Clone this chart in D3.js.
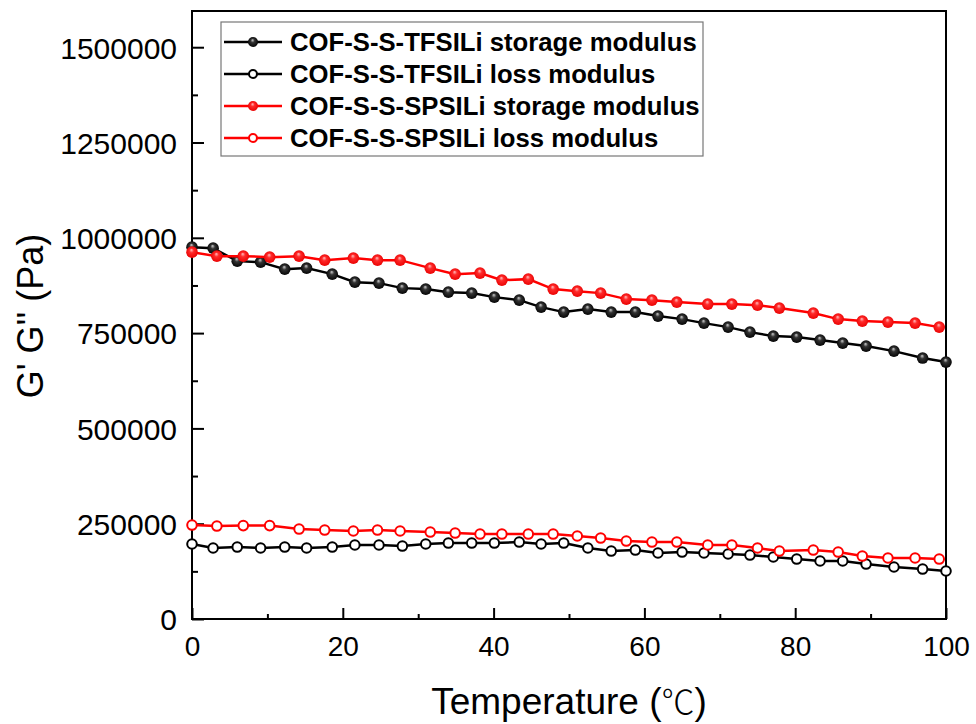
<!DOCTYPE html>
<html><head><meta charset="utf-8">
<script src="https://cdn.jsdelivr.net/npm/d3@7"></script>
<style>body{margin:0;background:#fff}svg{display:block}</style>
</head><body>
<script>
// ---- data ----
const tempsTFSI = [0, 2.8, 6.0, 9.1, 12.3, 15.2, 18.6, 21.6, 24.8, 27.9, 31.0, 34.0, 37.1, 40.1, 43.4, 46.3, 49.3, 52.5, 55.6, 58.8, 61.8, 65.0, 67.9, 71.1, 74.0, 77.1, 80.2, 83.3, 86.3, 89.4, 93.1, 96.9, 100];
const storageTFSI = [975500, 972900, 938800, 936200, 917800, 920500, 904700, 883700, 881100, 868000, 865400, 857500, 854900, 844400, 836500, 818200, 805100, 812900, 805100, 805100, 794600, 786700, 776200, 765700, 752600, 742100, 739500, 731700, 723800, 715900, 702800, 684500, 674000];
const lossTFSI = [196700, 186200, 188800, 186200, 188800, 186200, 188800, 194100, 194100, 191400, 196700, 199300, 199300, 199300, 201900, 196700, 199300, 186200, 178300, 180900, 173100, 175700, 173100, 170500, 167800, 162600, 157300, 152100, 152100, 144200, 136400, 131100, 125900];
const tempsSPSI = [0, 3.3, 6.8, 10.3, 14.2, 17.6, 21.4, 24.6, 27.6, 31.6, 34.9, 38.2, 41.1, 44.6, 47.9, 51.1, 54.2, 57.6, 61.0, 64.3, 68.4, 71.6, 75.0, 77.9, 82.4, 85.7, 88.9, 92.3, 95.9, 99.1];
const storageSPSI = [962400, 951900, 951900, 949300, 951900, 941400, 946700, 941400, 941400, 920500, 904700, 907400, 889000, 891600, 865400, 860100, 854900, 839200, 836500, 831300, 826100, 826100, 823400, 815600, 802500, 786700, 781500, 778900, 776200, 765700];
const lossSPSI = [246500, 243900, 245000, 245000, 236000, 233400, 230800, 233400, 230800, 228100, 225500, 222900, 222900, 222900, 222900, 217700, 212400, 204500, 201900, 201900, 194100, 194100, 186200, 178300, 180900, 175700, 165200, 160000, 160000, 157300];
const seriesNames = ["COF-S-S-TFSILi storage modulus", "COF-S-S-TFSILi loss modulus", "COF-S-S-SPSILi storage modulus", "COF-S-S-SPSILi loss modulus"];
const seriesColors = ["#000000", "#000000", "#ff0000", "#ff0000"];
const seriesFilled = [true, false, true, false];
const xTicks = [0, 20, 40, 60, 80, 100];
const xMinorTicks = [10, 30, 50, 70, 90];
const yTicks = [0, 250000, 500000, 750000, 1000000, 1250000, 1500000];
const yMinorTicks = [125000, 375000, 625000, 875000, 1125000, 1375000];
const xTitleMain = "Temperature (";
const xTitleUnit = "\u2103";
const xTitleEnd = ")";
const yTitle = "G' G'' (Pa)";

const series = [
  {x: tempsTFSI, y: storageTFSI},
  {x: tempsTFSI, y: lossTFSI},
  {x: tempsSPSI, y: storageSPSI},
  {x: tempsSPSI, y: lossSPSI}
].map((s, i) => ({name: seriesNames[i], color: seriesColors[i], filled: seriesFilled[i],
  pts: s.x.map((t, j) => [t, s.y[j]])}));

const W = 976, H = 724;
const L = 192, R = 946, T = 11, B = 619;
const svg = d3.select("body").append("svg").attr("width", W).attr("height", H);

const x = d3.scaleLinear().domain([0, 100]).range([L, R]);
const y = d3.scaleLinear().domain([0, 1595000]).range([B, T]);

// gradients for ball markers
const defs = svg.append("defs");
function ball(id, c0, c1, c2) {
  const g = defs.append("radialGradient").attr("id", id)
    .attr("cx", "50%").attr("cy", "50%").attr("r", "55%").attr("fx", "45%").attr("fy", "30%");
  g.append("stop").attr("offset", "0%").attr("stop-color", c0);
  g.append("stop").attr("offset", "35%").attr("stop-color", c1);
  g.append("stop").attr("offset", "100%").attr("stop-color", c2);
}
ball("ballBlack", "#d0d0d0", "#333333", "#000000");
ball("ballRed", "#ffc0c0", "#ff2a2a", "#e80000");
const ballFill = c => c === "#ff0000" ? "url(#ballRed)" : "url(#ballBlack)";

// axes (ticks inward)
const fontTick = "'Liberation Sans', Arial, sans-serif";
const xAxis = svg.append("g").attr("transform", `translate(0,${B})`)
  .call(d3.axisBottom(x).tickValues(xTicks).tickSizeInner(-11).tickSizeOuter(0).tickPadding(22).tickFormat(d3.format("d")));
const xMinor = svg.append("g").attr("transform", `translate(0,${B})`)
  .call(d3.axisBottom(x).tickValues(xMinorTicks).tickSizeInner(-5).tickSizeOuter(0).tickFormat(""));
const yAxis = svg.append("g").attr("transform", `translate(${L},0)`)
  .call(d3.axisLeft(y).tickValues(yTicks).tickSizeInner(-12).tickSizeOuter(0).tickPadding(15).tickFormat(d3.format("d")));
const yMinor = svg.append("g").attr("transform", `translate(${L},0)`)
  .call(d3.axisLeft(y).tickValues(yMinorTicks).tickSizeInner(-6).tickSizeOuter(0).tickFormat(""));
[xAxis, xMinor, yAxis, yMinor].forEach(g => {
  g.select(".domain").remove();
  g.selectAll(".tick line").attr("stroke", "#000").attr("stroke-width", 2);
});
xAxis.selectAll(".tick text").attr("font-family", fontTick).attr("font-size", 28).attr("fill", "#000").attr("dy", "0.55em");
yAxis.selectAll(".tick text").attr("font-family", fontTick).attr("font-size", 30).attr("fill", "#000").attr("dy", "0.36em");

// frame
svg.append("rect").attr("x", x(0)).attr("y", y(1595000)).attr("width", x(100) - x(0)).attr("height", y(0) - y(1595000))
  .attr("fill", "none").attr("stroke", "#000").attr("stroke-width", 2);

// data
const line = d3.line().x(d => x(d[0])).y(d => y(d[1]));
series.forEach(s => {
  const g = svg.append("g");
  g.append("path").datum(s.pts).attr("d", line).attr("fill", "none").attr("stroke", s.color).attr("stroke-width", 2.5);
  g.selectAll("circle").data(s.pts).join("circle")
    .attr("cx", d => x(d[0])).attr("cy", d => y(d[1]))
    .attr("r", s.filled ? 5.8 : 4.8)
    .attr("fill", s.filled ? ballFill(s.color) : "#fff")
    .attr("stroke", s.filled ? "none" : s.color).attr("stroke-width", 2);
});

// titles
const xt = svg.append("text").attr("x", (L + R) / 2).attr("y", 714).attr("text-anchor", "middle")
  .attr("font-family", fontTick).attr("font-size", 37).attr("fill", "#000");
xt.append("tspan").text(xTitleMain);
xt.append("tspan").attr("font-family", "'Noto Sans CJK SC', 'DejaVu Sans', sans-serif").attr("font-weight", 300).attr("font-size", 33).text(xTitleUnit);
xt.append("tspan").text(xTitleEnd);
svg.append("text").attr("transform", "translate(30,316) rotate(-90)").attr("text-anchor", "middle")
  .attr("dominant-baseline", "central").attr("font-family", fontTick).attr("font-size", 36).attr("fill", "#000").text(yTitle);

// legend
const lg = svg.append("g");
lg.append("rect").attr("x", 221).attr("y", 22).attr("width", 482).attr("height", 134)
  .attr("fill", "#fff").attr("stroke", "#777").attr("stroke-width", 1.2);
const rowY = [42, 74, 106, 138];
series.forEach((s, i) => {
  const yy = rowY[i];
  lg.append("line").attr("x1", 224).attr("x2", 282).attr("y1", yy).attr("y2", yy).attr("stroke", s.color).attr("stroke-width", 2.5);
  lg.append("circle").attr("cx", 253).attr("cy", yy).attr("r", s.filled ? 5 : 4)
    .attr("fill", s.filled ? ballFill(s.color) : "#fff").attr("stroke", s.filled ? "none" : s.color).attr("stroke-width", 2);
  lg.append("text").attr("x", 290).attr("y", yy).attr("dy", "0.36em").attr("font-family", fontTick)
    .attr("font-weight", "bold").attr("font-size", 25.7).attr("fill", "#000").text(s.name);
});
</script>
</body></html>
